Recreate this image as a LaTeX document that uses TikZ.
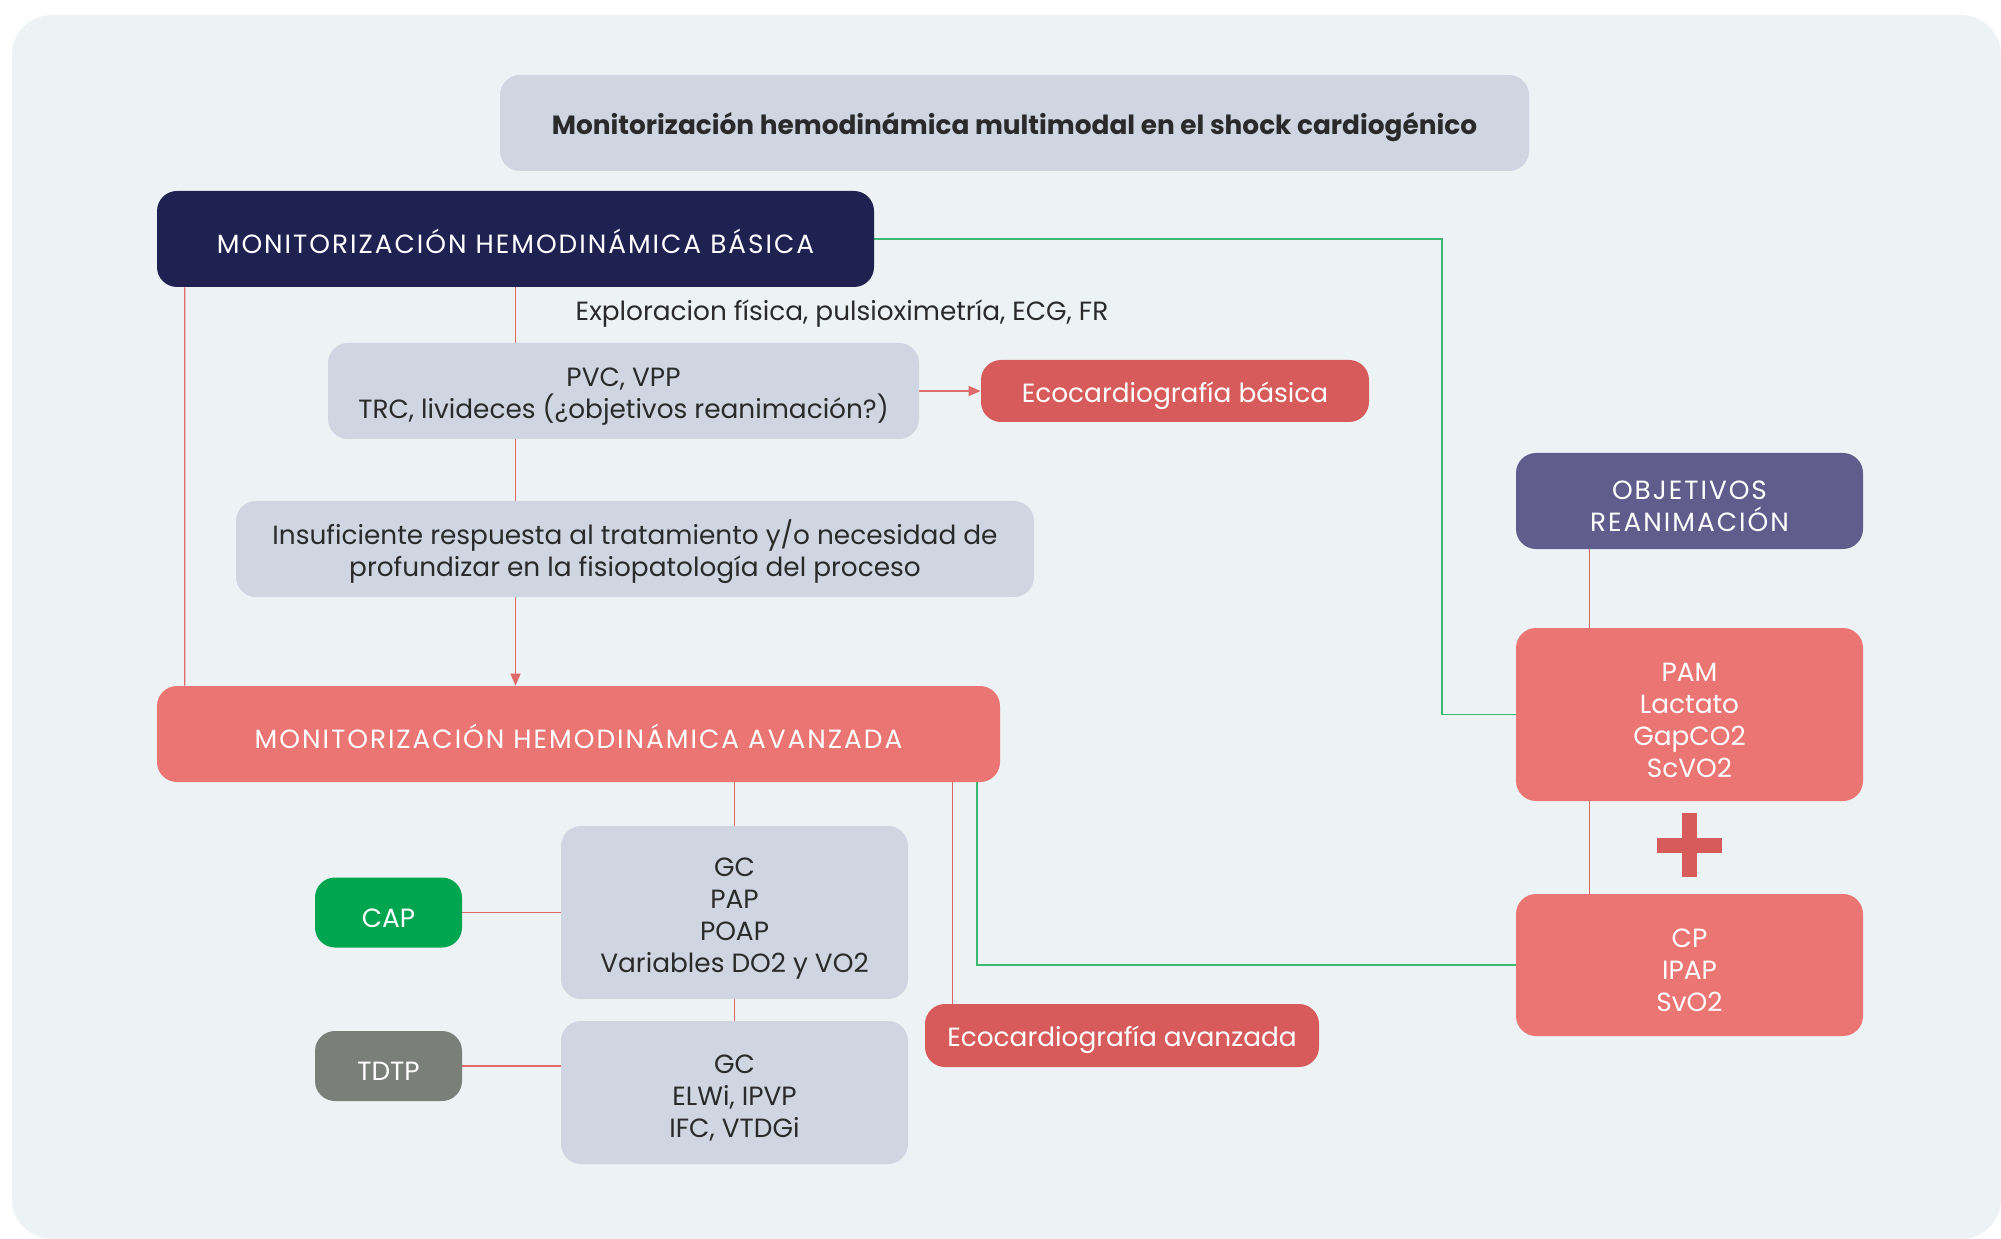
\documentclass[tikz,border=0pt]{standalone}
\usepackage{fontspec}
\setmainfont{Poppins}
\usetikzlibrary{arrows.meta,positioning}
\definecolor{fondo}{HTML}{EDF2F5}
\definecolor{gris}{HTML}{CFD6E2}
\definecolor{marino}{HTML}{1F2250}
\definecolor{rojo}{HTML}{D75B5B}
\definecolor{salmon}{HTML}{EB7572}
\definecolor{verde}{HTML}{00A550}
\definecolor{grisosc}{HTML}{7A7F7A}
\definecolor{morado}{HTML}{605D8C}
\definecolor{lineav}{HTML}{3DB873}
\definecolor{linear}{HTML}{E06A6A}
\definecolor{texto}{HTML}{2A2A2A}
\newcommand{\mayus}{\addfontfeature{LetterSpace=7.5}}
\newcommand{\arriba}{\rule{0pt}{17pt}}
\pgfdeclarelayer{fondolayer}
\pgfdeclarelayer{lineas}
\pgfsetlayers{fondolayer,lineas,main}
\begin{document}
\begin{tikzpicture}[
	caja/.style={rectangle,rounded corners=0.4cm,inner sep=0pt,align=center,font=\fontsize{15}{18.2}\selectfont,execute at begin node={\arriba}},
	grisbox/.style={caja,fill=gris,text=texto},
	colbox/.style={caja,text=white},
	rline/.style={color=linear,line width=0.7pt},
	gline/.style={color=lineav,line width=1pt}]
	\useasboundingbox (0,0) rectangle (40.02,-24.78);
	\begin{pgfonlayer}{fondolayer}
	\fill [fondo,rounded corners=0.8cm] (0.24,-0.30) rectangle (40.02,-24.78);
	\end{pgfonlayer}
	% Place nodes
	\node [grisbox,minimum width=20.58cm,minimum height=1.92cm,font=\fontsize{15}{18.2}\selectfont\bfseries] (titulo) at (20.29,-2.46) {Monitorización hemodinámica multimodal en el shock cardiogénico};
	\node [colbox,fill=marino,minimum width=14.34cm,minimum height=1.92cm,font=\fontsize{15}{18.2}\selectfont\mayus] (basica) at (10.31,-4.78) {MONITORIZACIÓN HEMODINÁMICA BÁSICA};
	\node [rectangle,text=texto,font=\fontsize{15}{18.2}\selectfont] (explor) at (16.84,-6.28) {Exploracion física, pulsioximetría, ECG, FR};
	\node [grisbox,minimum width=11.82cm,minimum height=1.92cm] (pvc) at (12.47,-7.82) {\arriba PVC, VPP\\TRC, livideces (¿objetivos reanimación?)};
	\node [colbox,fill=rojo,minimum width=7.76cm,minimum height=1.24cm] (ecob) at (23.50,-7.82) {Ecocardiografía básica};
	\node [grisbox,minimum width=15.96cm,minimum height=1.92cm] (insuf) at (12.70,-10.98) {\arriba Insuficiente respuesta al tratamiento y/o necesidad de\\profundizar en la fisiopatología del proceso};
	\node [colbox,fill=salmon,minimum width=16.86cm,minimum height=1.92cm,font=\fontsize{15}{18.2}\selectfont\mayus] (avanzada) at (11.57,-14.68) {MONITORIZACIÓN HEMODINÁMICA AVANZADA};
	\node [grisbox,minimum width=6.94cm,minimum height=3.46cm] (gc1) at (14.69,-18.25) {\arriba GC\\PAP\\POAP\\Variables DO2 y VO2};
	\node [colbox,fill=verde,minimum width=2.94cm,minimum height=1.40cm] (cap) at (7.77,-18.25) {CAP};
	\node [grisbox,minimum width=6.94cm,minimum height=2.86cm] (gc2) at (14.69,-21.85) {\arriba GC\\ELWi, IPVP\\IFC, VTDGi};
	\node [colbox,fill=grisosc,minimum width=2.94cm,minimum height=1.40cm] (tdtp) at (7.77,-21.32) {TDTP};
	\node [colbox,fill=rojo,minimum width=7.88cm,minimum height=1.26cm] (ecoa) at (22.44,-20.71) {Ecocardiografía avanzada};
	\node [colbox,fill=morado,minimum width=6.94cm,minimum height=1.92cm,font=\fontsize{15}{18.2}\selectfont\mayus] (objetivos) at (33.79,-10.02) {\arriba OBJETIVOS\\REANIMACIÓN};
	\node [colbox,fill=salmon,minimum width=6.94cm,minimum height=3.46cm] (pam) at (33.79,-14.29) {\arriba PAM\\Lactato\\GapCO2\\ScVO2};
	\node [colbox,fill=salmon,minimum width=6.94cm,minimum height=2.84cm] (cp) at (33.79,-19.30) {\arriba CP\\IPAP\\SvO2};
	% plus sign
	\coordinate (mas) at (33.78,-16.90);
	\fill [rojo] ([shift={(-0.15,-0.64)}]mas) rectangle ([shift={(0.15,0.64)}]mas);
	\fill [rojo] ([shift={(-0.65,-0.15)}]mas) rectangle ([shift={(0.65,0.15)}]mas);
	% connectors
	\begin{pgfonlayer}{lineas}
	\draw [rline,-{Triangle[length=2.4mm,width=2mm]}] (basica.south) -- (basica.south |- avanzada.north);
	\draw [rline] ([xshift=0.56cm]basica.south west) -- ([xshift=0.56cm]avanzada.north west);
	\draw [rline,-{Triangle[length=2.4mm,width=2mm]}] (pvc.east) -- (ecob.west);
	\draw [rline] (gc1.north |- avanzada.south) -- (gc1.north);
	\draw [rline] (gc1.south) -- (gc2.north);
	\draw [rline] (cap.east) -- (gc1.west);
	\draw [rline] (tdtp.east) -- (tdtp.east -| gc2.west);
	\draw [rline] ([xshift=-0.96cm]avanzada.south east) -- ([xshift=-0.96cm]avanzada.south east |- ecoa.north);
	\draw [rline] ([xshift=1.48cm]objetivos.south west) -- ([xshift=1.48cm]objetivos.south west |- cp.north);
	\coordinate (giro) at (28.84,0);
	\draw [gline] (basica.east) -| (giro |- pam.west) -- (pam.west);
	\draw [gline] ([xshift=-0.46cm]avanzada.south east) |- (cp.west);
	\end{pgfonlayer}
\end{tikzpicture}
\end{document}
